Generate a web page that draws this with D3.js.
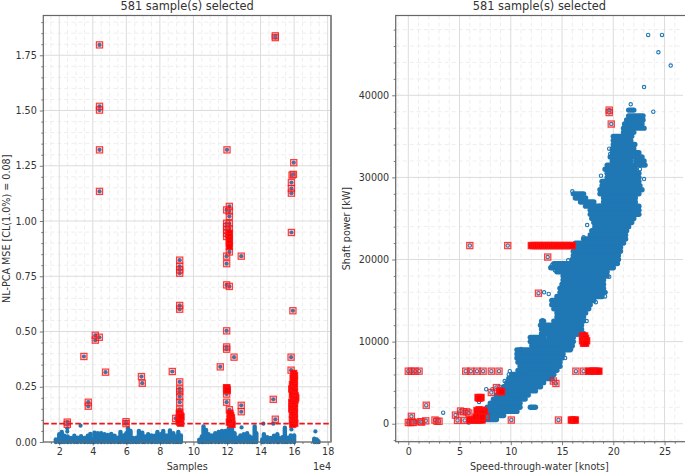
<!DOCTYPE html>
<html lang="en">
<head>
    <meta charset="UTF-8">
    <title>581 samples selected</title>
    <script src="https://cdn.jsdelivr.net/npm/d3@7"></script>
    <style>
        html, body {
            padding: 0;
            margin: 0;
            background: white;
            overflow: hidden;
        }

        svg text {
            font-family: "DejaVu Sans", sans-serif;
            fill: #333;
        }
    </style>
</head>
<body>
<svg id="chart" width="685" height="473"></svg>
<script>
    const titleText = "581 sample(s) selected";
    const threshold = 0.083;

    const mseTicks = [0, 0.25, 0.5, 0.75, 1, 1.25, 1.5, 1.75];
    const sampleTicks = [2, 4, 6, 8, 10, 12, 14, 16, 18];
    const speedTicks = [0, 5, 10, 15, 20, 25];
    const powerTicks = [0, 10000, 20000, 30000, 40000];

    // top of the blue mass along the bottom of the left panel: [samples/1e4, mse]
    const mseBase = [
        [1.8, .012], [2.0, .035], [2.15, .045], [2.3, .028], [2.5, .025], [2.7, .018], [2.9, .028], [3.1, .02],
        [3.3, .026], [3.5, .018], [3.7, .028], [3.85, .036], [4.0, .01], [4.1, .042], [4.3, .04], [4.5, .04],
        [4.7, .035], [4.9, .032], [5.1, .036], [5.3, .028], [5.5, .02], [5.65, .045], [5.85, .03], [6.0, .04],
        [6.1, .062], [6.25, .05], [6.4, .018], [6.6, .02], [6.75, .05], [6.95, .042], [7.1, .025], [7.3, .035],
        [7.5, .03], [7.7, .028], [7.85, .045], [8.05, .035], [8.2, .05], [8.4, .03], [8.6, .052], [8.8, .04],
        [8.95, .025], [9.1, .045], [9.25, .03],
        [10.35, .01], [10.5, .025], [10.6, .07], [10.75, .055], [10.9, .035], [11.1, .03], [11.3, .04], [11.5, .045],
        [11.7, .05], [11.9, .05], [12.1, .06], [12.3, .07], [12.45, .04], [12.6, .02], [12.8, .03], [13.0, .035],
        [13.2, .04], [13.35, .025], [13.5, .02], [13.65, .07], [13.75, .04],
        [14.1, .012], [14.2, .035], [14.4, .022], [14.6, .018], [14.8, .028], [15.0, .035], [15.1, .018], [15.3, .022],
        [15.45, .065], [15.6, .02], [15.8, .03], [16.0, .03],
        [17.2, .015], [17.35, .012], [17.45, .004]
    ];

    const mseNormal = [
        [3.27, .074], [2.48, .062], [2.48, .047], [14.17, .083], [14.76, .083], [12.87, .066], [15.84, .057], [17.27, .048]
    ];

    const mseSelected = [
        [4.4, 1.797], [4.4, 1.519], [4.4, 1.502], [4.4, 1.322], [4.4, 1.134], [14.88, 1.83], [14.88, 1.838],
        [12.0, 1.322], [15.98, 1.264], [15.88, 1.208], [15.96, 1.211], [15.84, 1.174], [15.84, 1.147], [15.84, 1.126],
        [15.84, .948], [12.14, 1.066], [11.98, 1.05], [12.14, 1.045], [12.14, 1.021], [12.14, .988], [11.98, .99],
        [12.14, .965], [11.98, .975], [11.98, .96], [11.98, .945], [11.98, .93],
        [12.14, .86], [11.98, .841], [11.98, .807], [12.85, .841], [11.98, .711], [12.14, .704],
        [9.18, .823], [9.18, .795], [9.18, .779], [9.18, .764], [9.18, .618], [9.18, .601], [15.93, .594],
        [11.98, .503], [11.98, .43], [11.98, .42], [15.82, .384], [12.42, .384], [11.6, .34], [15.82, .325],
        [8.74, .319], [6.9, .296], [6.95, .266], [4.76, .316], [3.47, .387], [4.15, .483], [4.15, .461], [4.39, .474],
        [3.73, .18], [3.73, .162], [2.48, .09], [2.48, .08], [5.98, .092], [5.98, .083],
        [9.18, .272], [9.18, .24], [9.18, .228], [9.18, .205], [9.18, .18], [9.18, .148], [9.18, .135], [8.94, .107],
        [11.98, .245], [11.98, .24], [11.98, .232], [11.98, .217], [11.98, .18], [12.14, .146],
        [12.85, .166], [12.85, .137], [14.76, .193], [14.88, .103]
    ];

    // columns so tightly packed that they read as solid red
    const mseDense = [
        [9.16, .13], [9.2, .12], [9.16, .11], [9.22, .10], [9.18, .09], [9.24, .085], [9.14, .095], [9.26, .115],
        [12.14, .945], [12.14, .93], [12.14, .915], [12.14, .90], [12.14, .885],
        [11.98, .245], [12.02, .235], [12.18, .13], [12.22, .12], [12.26, .11], [12.18, .10], [12.28, .095], [12.22, .085], [12.3, .08], [12.14, .09],
        [15.98, .31], [16.02, .30], [15.94, .29], [16.02, .28], [15.98, .27], [15.9, .26], [16.02, .25], [15.86, .24],
        [15.94, .235], [16.02, .225], [15.9, .215], [16.06, .21], [16.1, .2], [15.94, .195], [16.06, .19], [15.86, .18],
        [16.02, .175], [15.94, .165], [16.02, .155], [15.86, .15], [15.98, .14], [16.02, .13], [15.9, .125], [15.98, .115],
        [16.02, .105], [15.9, .10], [15.98, .09], [16.04, .085], [15.92, .08]
    ];

    // extent of the dense cloud per power level: [kW, [from, to] knots, ...]
    const powerRows = [
        [38200, [21.5, 22.0]], [37500, [21.5, 22.9]], [37000, [21.3, 22.9]], [36500, [21.1, 22.8]], [36000, [21.0, 23.0]],
        [35500, [21.0, 22.0]], [35000, [20.0, 21.8]], [34500, [20.0, 21.7]], [34000, [20.0, 22.1]], [33500, [19.9, 22.0]],
        [33000, [19.9, 22.5]], [32500, [19.7, 22.8]], [32000, [19.9, 21.7], [22.2, 23.0]], [31500, [19.4, 22.0], [22.3, 23.1]],
        [31000, [19.2, 22.15]], [30500, [19.4, 22.5]], [30000, [19.4, 22.5]], [29500, [18.9, 22.5]], [29000, [18.9, 22.6]],
        [28500, [18.7, 22.8]], [28000, [16.1, 17.1], [18.7, 22.5]], [27500, [16.3, 17.3], [19.05, 22.15]],
        [27000, [16.8, 18.1], [19.05, 22.15]], [26500, [17.3, 18.7], [18.7, 22.5]], [26000, [17.75, 22.5]],
        [25500, [17.75, 22.5]], [25000, [17.9, 22.0]], [24500, [18.1, 21.8]], [24000, [18.2, 21.5]], [23500, [17.9, 21.3]],
        [23000, [17.75, 21.2]], [22500, [17.1, 21.2]], [22000, [16.3, 21.0]], [21500, [16.3, 20.7]], [21000, [16.1, 20.7]],
        [20500, [16.1, 20.5]], [20000, [16.0, 20.5]], [19500, [14.2, 15.3], [15.5, 20.4]], [19000, [13.9, 20.0]],
        [18500, [14.5, 19.4]], [18000, [15.1, 19.4]], [17500, [15.1, 19.05]], [17000, [15.0, 19.05]], [16500, [14.8, 19.05]],
        [16000, [14.8, 19.2]], [15500, [14.5, 18.9]], [15000, [14.0, 18.1]], [14500, [14.0, 17.75]], [14000, [14.2, 17.6]],
        [13500, [14.5, 17.3]], [13000, [14.5, 17.1]], [12500, [13.0, 13.2], [14.2, 17.1]], [12000, [12.9, 16.9]],
        [11500, [13.0, 16.9]], [11000, [13.0, 16.1], [16.45, 17.1]], [10500, [11.9, 13.2], [13.7, 16.1]], [10000, [11.9, 16.1]],
        [9500, [12.05, 16.0]], [9000, [10.6, 15.8]], [8500, [10.6, 15.1]], [8000, [10.6, 15.0]], [7500, [10.7, 14.8]],
        [7000, [10.9, 14.8]], [6500, [10.7, 14.5]], [6000, [10.1, 14.2]], [5500, [9.8, 14.0]], [5000, [9.6, 13.2]],
        [4500, [9.3, 12.9]], [4000, [9.0, 12.4]], [3500, [8.6, 11.7]], [3000, [8.3, 11.4]], [2500, [8.0, 10.9]],
        [2000, [7.7, 10.9], [11.9, 12.4]], [1500, [7.3, 10.6]], [1000, [7.3, 9.3]], [500, [7.5, 8.6]]
    ];

    const powerNormal = [
        [23.4, 47360], [24.75, 47360], [24.4, 45240], [25.6, 43620], [23.0, 41000], [23.9, 38000], [21.7, 38900],
        [19.6, 33500], [19.7, 32850], [23.0, 29800], [17.45, 24200], [17.1, 22700], [13.25, 16000], [13.7, 15800],
        [9.9, 6400], [7.6, 4200], [8.2, 4200], [3.4, 1350], [5.9, 150], [6.85, 3000], [6.9, 2650], [10.9, 5900],
        [10.3, 5900], [0.7, 200], [16.0, 28300], [16.4, 27800], [22.6, 31000], [18.8, 30200], [15.6, 19900],
        [19.6, 17900], [19.2, 15500], [18.3, 14800], [17.4, 12500], [16.5, 10800], [15.9, 9100], [15.3, 8000],
        [14.0, 19300], [14.3, 18700], [13.1, 12600], [12.0, 10200], [11.0, 9100], [10.7, 7900], [9.8, 6000],
        [9.4, 5200], [8.9, 4500]
    ];

    const powerSelected = [
        [0, 6400], [.3, 6400], [.65, 6400], [1.05, 6400], [5.6, 6400], [6.1, 6400], [6.7, 6400], [7.3, 6400],
        [8.1, 6400], [8.85, 6400], [16.35, 6400], [17.1, 6400],
        [6.0, 21700], [9.7, 21700], [13.6, 20300], [12.7, 15900], [14.15, 5200], [14.4, 4900],
        [8.6, 4400], [8.1, 3800], [1.75, 2250], [.3, 900], [4.6, 1050], [7.6, 850], [4.8, 400], [5.5, 400],
        [10.05, 450], [14.65, 450], [0, 150], [.2, 150], [.4, 200], [.5, 150], [1.2, 250], [1.3, 200], [1.7, 350],
        [2.6, 450], [2.8, 300], [3, 300], [19.6, 38200], [19.6, 37900], [19.8, 36500], [5.1, 1550], [5.4, 1450], [5.7, 1450], [5.9, 1300]
    ];

    const powerDense = [
        [17.6, 6400], [17.8, 6400], [18.0, 6400], [18.2, 6400], [18.4, 6400], [18.6, 6400],
        [12.0, 21700], [12.2, 21700], [12.4, 21700], [12.6, 21700], [12.8, 21700], [13.0, 21700], [13.2, 21700],
        [13.4, 21700], [13.6, 21700], [13.8, 21700], [14.0, 21700], [14.2, 21700], [14.4, 21700], [14.6, 21700],
        [14.8, 21700], [15.0, 21700], [15.2, 21700], [15.4, 21700], [15.6, 21700], [15.8, 21700], [16.0, 21700],
        [8.9, 4000], [9.0, 3900], [9.1, 3900], [6.8, 3200], [7.0, 3150], [7.1, 3200], [6.9, 3100],
        [6.7, 1600], [6.9, 1700], [7.1, 1650], [7.3, 1600], [7.4, 1500], [6.8, 1350], [7.0, 1400], [7.2, 1300],
        [6.0, 450], [6.2, 450], [6.4, 450], [6.6, 450], [6.8, 450], [7.0, 450], [7.2, 450],
        [6.6, 800], [6.9, 900], [7.2, 800],
        [15.9, 450], [16.0, 450], [16.2, 450], [16.3, 450],
        [17.0, 10700], [17.2, 10700], [17.1, 10400], [17.3, 10400], [17.0, 10100], [17.2, 10100], [17.4, 10100],
        [17.1, 9800], [17.3, 9800]
    ];

    const svg = d3.select("#chart");

    // axes frame with grid, shared by both panels
    function panel(box, x, y, xTicks, yTicks, xMinor, yMinor, xLabel, yLabel, yFormat) {
        const g = svg.append("g");

        g.append("g").selectAll("line").data(xMinor).join("line")
            .attr("x1", d => x(d)).attr("x2", d => x(d)).attr("y1", box.top).attr("y2", box.bottom)
            .attr("stroke", "#eee").attr("stroke-width", 1).attr("stroke-dasharray", "4,3");
        g.append("g").selectAll("line").data(yMinor).join("line")
            .attr("y1", d => y(d)).attr("y2", d => y(d)).attr("x1", box.left).attr("x2", box.right)
            .attr("stroke", "#eee").attr("stroke-width", 1).attr("stroke-dasharray", "4,3");
        g.append("g").selectAll("line").data(xTicks).join("line")
            .attr("x1", d => x(d)).attr("x2", d => x(d)).attr("y1", box.top).attr("y2", box.bottom)
            .attr("stroke", "#dcdcdc").attr("stroke-width", 1);
        g.append("g").selectAll("line").data(yTicks).join("line")
            .attr("y1", d => y(d)).attr("y2", d => y(d)).attr("x1", box.left).attr("x2", box.right)
            .attr("stroke", "#dcdcdc").attr("stroke-width", 1);

        const marks = svg.append("g");

        const top = svg.append("g");
        const xAxis = top.append("g").attr("transform", "translate(0," + box.bottom + ")")
            .call(d3.axisBottom(x).tickValues(xTicks).tickSize(3.5).tickPadding(3).tickFormat(d3.format("d")));
        const xMin = top.append("g").attr("transform", "translate(0," + box.bottom + ")")
            .call(d3.axisBottom(x).tickValues(xMinor).tickSize(2).tickFormat(""));
        const yAxis = top.append("g").attr("transform", "translate(" + box.left + ",0)")
            .call(d3.axisLeft(y).tickValues(yTicks).tickSize(3.5).tickPadding(3).tickFormat(yFormat));
        const yMin = top.append("g").attr("transform", "translate(" + box.left + ",0)")
            .call(d3.axisLeft(y).tickValues(yMinor).tickSize(2).tickFormat(""));

        [xAxis, yAxis, xMin, yMin].forEach(a => {
            a.select(".domain").remove();
            a.selectAll("line").attr("stroke", "#444").attr("stroke-width", 0.7);
            a.selectAll("text").style("font-size", "9.6px");
        });

        top.append("rect")
            .attr("x", box.left).attr("y", box.top)
            .attr("width", box.spineRight - box.left).attr("height", box.bottom - box.top)
            .attr("fill", "none").attr("stroke", "#666").attr("stroke-width", 1.2);

        top.append("text").text(titleText)
            .attr("x", (box.left + box.right) / 2).attr("y", 10)
            .attr("text-anchor", "middle").style("font-size", "11.4px");
        top.append("text").text(xLabel)
            .attr("x", (box.left + box.right) / 2).attr("y", 470)
            .attr("text-anchor", "middle").style("font-size", "9.6px");
        top.append("text").text(yLabel)
            .attr("transform", "translate(" + box.labelX + "," + (box.top + box.bottom) / 2 + ") rotate(-90)")
            .attr("text-anchor", "middle").style("font-size", "9.6px");

        return marks;
    }

    function squares(g, data, x, y, fill) {
        g.append("g").selectAll("rect").data(data).join("rect")
            .attr("x", d => x(d[0]) - 3.1).attr("y", d => y(d[1]) - 3.1)
            .attr("width", 6.2).attr("height", 6.2)
            .attr("fill", fill).attr("stroke", "#f11").attr("stroke-opacity", 0.8).attr("stroke-width", 1.2);
    }

    // left panel
    const boxL = {left: 43.3, right: 331, spineRight: 331, top: 15.5, bottom: 442, labelX: 10};
    const xL = d3.scaleLinear().domain([1.05, 18.2]).range([boxL.left, boxL.right]);
    const yL = d3.scaleLinear().domain([0, 1.93]).range([boxL.bottom, boxL.top]);
    const gL = panel(boxL, xL, yL, sampleTicks, mseTicks,
        [1.5, 2.5, 3, 3.5, 4.5, 5, 5.5, 6.5, 7, 7.5, 8.5, 9, 9.5, 10.5, 11, 11.5, 12.5, 13, 13.5, 14.5, 15, 15.5, 16.5, 17, 17.5],
        [.05, .1, .15, .2, .3, .35, .4, .45, .55, .6, .65, .7, .8, .85, .9, .95, 1.05, 1.1, 1.15, 1.2, 1.3, 1.35, 1.4, 1.45, 1.55, 1.6, 1.65, 1.7, 1.8, 1.85, 1.9],
        "Samples", "NL-PCA MSE [CL(1.0%) = 0.08]", d3.format(".2f"));

    gL.append("g").selectAll("line").data(mseBase).join("line")
        .attr("x1", d => xL(d[0])).attr("x2", d => xL(d[0]))
        .attr("y1", yL(0)).attr("y2", d => yL(d[1]))
        .attr("stroke", "#1f77b4").attr("stroke-width", 4.4).attr("stroke-linecap", "round");
    gL.append("g").selectAll("circle").data(mseNormal.concat(mseSelected)).join("circle")
        .attr("cx", d => xL(d[0])).attr("cy", d => yL(d[1])).attr("r", 2.1).attr("fill", "#1f77b4");
    squares(gL, mseSelected, xL, yL, "rgba(255,80,80,0.22)");
    squares(gL, mseDense, xL, yL, "#f00");
    gL.append("line")
        .attr("x1", boxL.left).attr("x2", boxL.right).attr("y1", yL(threshold)).attr("y2", yL(threshold))
        .attr("stroke", "#f0141c").attr("stroke-width", 1.6).attr("stroke-dasharray", "5.5,2.5");
    svg.append("line").attr("x1", 331).attr("x2", 331).attr("y1", 15.5).attr("y2", 442)
        .attr("stroke", "#8a8a8a").attr("stroke-width", 2);
    svg.append("text").text("1e4").attr("x", 331).attr("y", 470)
        .attr("text-anchor", "end").style("font-size", "9.6px");

    // right panel, its right spine falls just outside the picture
    const boxR = {left: 395.7, right: 683, spineRight: 688, top: 15.5, bottom: 441.7, labelX: 350};
    const xR = d3.scaleLinear().domain([-1.23, 26.8]).range([boxR.left, boxR.right]);
    const yR = d3.scaleLinear().domain([-2190, 49720]).range([boxR.bottom, boxR.top]);
    const powerMinor = [];
    d3.range(-2000, 49000, 2000).forEach(v => { if (v % 10000 !== 0) powerMinor.push(v); });
    const gR = panel(boxR, xR, yR, speedTicks, powerTicks,
        d3.range(-1, 27).filter(v => v % 5 !== 0), powerMinor,
        "Speed-through-water [knots]", "Shaft power [kW]", d3.format("d"));

    gR.append("g").selectAll("g").data(powerRows).join("g")
        .each(function (row) {
            d3.select(this).selectAll("line").data(row.slice(1)).join("line")
                .attr("x1", d => xR(d[0])).attr("x2", d => xR(d[1]))
                .attr("y1", yR(row[0])).attr("y2", yR(row[0]))
                .attr("stroke", "#1f77b4").attr("stroke-width", 5.4).attr("stroke-linecap", "round");
        });
    gR.append("g").selectAll("circle").data(powerNormal.concat(powerSelected)).join("circle")
        .attr("cx", d => xR(d[0])).attr("cy", d => yR(d[1])).attr("r", 1.7)
        .attr("fill", "none").attr("stroke", "#1f77b4").attr("stroke-width", 1.1);
    squares(gR, powerSelected, xR, yR, "rgba(255,80,80,0.22)");
    squares(gR, powerDense, xR, yR, "#f00");
</script>
</body>
</html>
